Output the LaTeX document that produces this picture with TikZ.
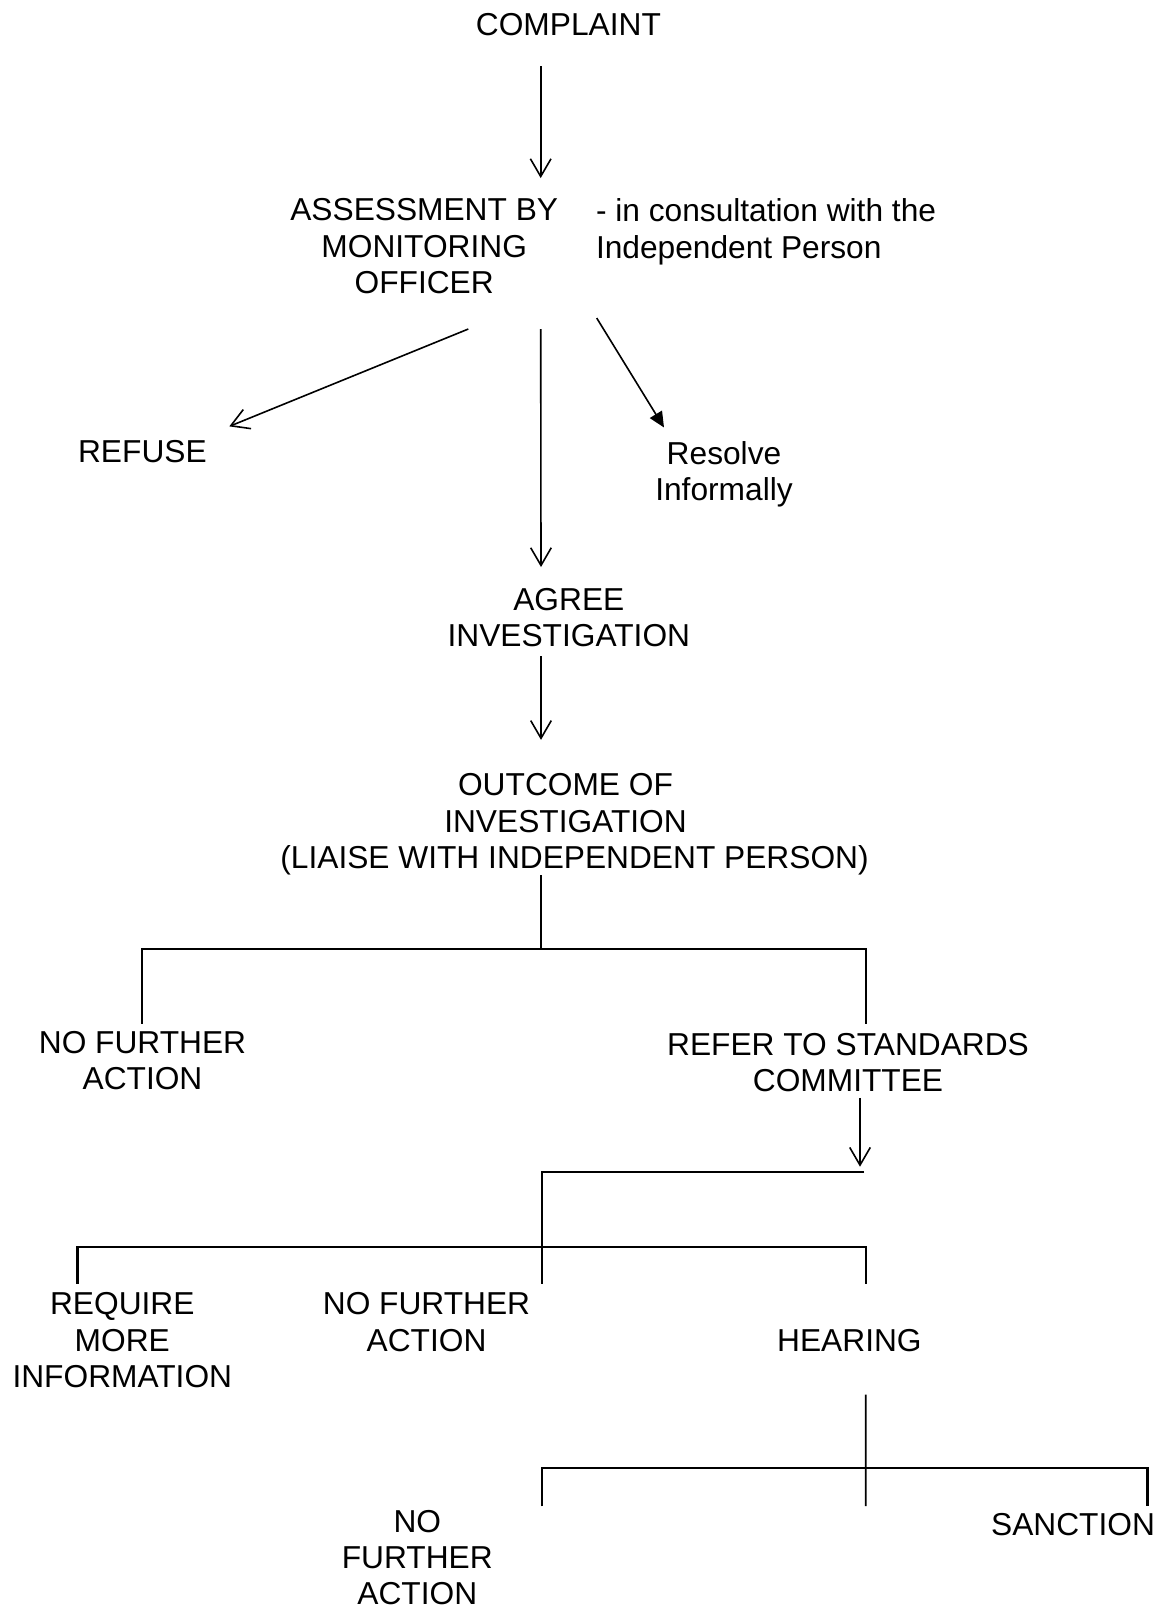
\documentclass[tikz,border=0pt]{standalone}
\usepackage{fontspec}
\setmainfont{Liberation Sans}
\usetikzlibrary{arrows.meta}
\begin{document}
\begin{tikzpicture}[x=1pt,y=-1pt,
  lbl/.style={font=\fontsize{31.7pt}{36.3pt}\selectfont, align=center, inner sep=0pt, outer sep=0pt},
  oarr/.style={line width=1.6pt, -{Straight Barb[length=17.7pt,width=20.6pt]}},
  farr/.style={line width=1.6pt, -{Triangle[length=15.5pt,width=14pt]}},
  stem/.style={line width=1.7pt},
  bracket/.style={line width=2.1pt, line join=miter}]
\path[use as bounding box, fill=white] (0,0) rectangle (1163,1612);

% nodes
\node[lbl] (complaint) at (568.4,24.7) {COMPLAINT};
\node[lbl] (assess) at (424.2,246.3) {ASSESSMENT BY\\MONITORING\\OFFICER};
\node[lbl, align=left, anchor=west] (consult) at (596,231.8) {- in consultation with the\\Independent Person};
\node[lbl] (refuse) at (142.4,452) {REFUSE};
\node[lbl] (resolve) at (724,474) {Resolve\\Informally};
\node[lbl] (agree) at (568.8,617.6) {AGREE\\INVESTIGATION};
\node[lbl] (outcome) at (574.5,824.5) {OUTCOME OF\kern18pt\\INVESTIGATION\kern18pt\\(LIAISE WITH INDEPENDENT PERSON)};
\node[lbl] (nfa1) at (142.5,1060.9) {NO FURTHER\\ACTION};
\node[lbl] (refer) at (848,1062.5) {REFER TO STANDARDS\\COMMITTEE};
\node[lbl] (reqmore) at (122.3,1340.3) {REQUIRE\\MORE\\INFORMATION};
\node[lbl] (nfa2) at (426.5,1322) {NO FURTHER\\ACTION};
\node[lbl] (hearing) at (849.4,1340.3) {HEARING};
\node[lbl] (nfa3) at (417.3,1557.5) {NO\\FURTHER\\ACTION};
\node[lbl] (sanction) at (1073,1525) {SANCTION};

% junction coordinates
\coordinate (j1) at (541.3,949.3);
\coordinate (j2) at (864,1171.7);
\coordinate (tip2) at (860,1166.7);
\coordinate (j3) at (542.5,1246.7);
\coordinate (j4) at (865.8,1468.3);
\coordinate (end4) at (865.8,1506);

% connectors
\draw[oarr] ([shift={(-27.7,30.4)}]complaint.south) -- ([shift={(116.5,-20.7)}]assess.north);
\draw[oarr] ([shift={(44.1,35.2)}]assess.south) -- ([shift={(86.9,-14.4)}]refuse.north);
\draw[oarr] ([shift={(116.5,35.2)}]assess.south) -- ([shift={(-27.8,-21.2)}]agree.north);
\draw[farr] ([shift={(172.5,24.2)}]assess.south) -- ([shift={(-60,-13.6)}]resolve.north);
\draw[oarr] ([shift={(-27.8,9.4)}]agree.south) -- ([shift={(-33.5,-34)}]outcome.north);
\draw[stem] ([shift={(-33.2,0)}]outcome.south) -- (j1);
\draw[bracket] ([shift={(-0.2,-7.9)}]nfa1.north) |- (j1) -| ([shift={(18,-9.5)}]refer.north);
\draw[oarr] ([shift={(12,6.1)}]refer.south) -- (tip2);
\draw[bracket] (j2) -| ([shift={(12.1,-9)}]nfa2.north east);
\draw[bracket] ([shift={(-44.8,-9.1)}]reqmore.north) |- (j3) -| ([shift={(16.3,-45.4)}]hearing.north);
\draw[stem] ([shift={(16.4,43.2)}]hearing.south) -- (end4);
\draw[bracket] ([shift={(49.2,-3.6)}]nfa3.north east) |- (j4) -| ([shift={(74.5,-7.4)}]sanction.north);
\end{tikzpicture}
\end{document}
